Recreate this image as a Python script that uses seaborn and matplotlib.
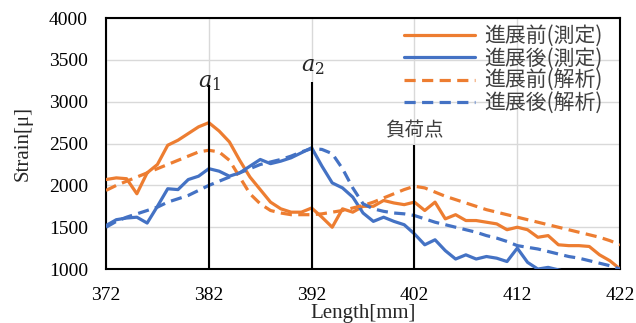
import numpy as np
import pandas as pd
import seaborn as sns
import matplotlib.pyplot as plt

length = list(range(372, 423))

before_meas = [2070, 2090, 2080, 1900, 2150, 2250, 2480, 2540, 2620, 2700,
               2750, 2650, 2520, 2300, 2100, 1950, 1800, 1720, 1680, 1680,
               1730, 1620, 1500, 1720, 1680, 1750, 1750, 1820, 1790, 1770,
               1800, 1700, 1800, 1600, 1650, 1580, 1580, 1560, 1540, 1470,
               1500, 1470, 1380, 1400, 1290, 1280, 1280, 1270, 1170, 1100,
               1000]
after_meas = [1520, 1590, 1610, 1620, 1550, 1750, 1960, 1950, 2070, 2110,
              2200, 2170, 2110, 2150, 2230, 2310, 2260, 2290, 2330, 2390,
              2450, 2230, 2030, 1970, 1860, 1670, 1570, 1620, 1570, 1530,
              1420, 1290, 1350, 1220, 1120, 1170, 1120, 1150, 1130, 1090,
              1250, 1080, 1000, 1020, 990, 960, 940, 920, 900, 890, 880]
before_calc = [1940, 2000, 2050, 2100, 2150, 2200, 2250, 2300, 2350, 2400,
               2420, 2400, 2300, 2100, 1900, 1780, 1700, 1670, 1650, 1650,
               1650, 1660, 1680, 1700, 1730, 1760, 1800, 1850, 1900, 1950,
               1990, 1970, 1920, 1870, 1830, 1790, 1750, 1710, 1680, 1650,
               1620, 1590, 1560, 1530, 1500, 1470, 1440, 1410, 1380, 1340,
               1290]
after_calc = [1500, 1570, 1620, 1660, 1700, 1740, 1800, 1840, 1880, 1940,
              2000, 2050, 2100, 2150, 2200, 2250, 2280, 2310, 2350, 2400,
              2440, 2430, 2380, 2200, 1970, 1780, 1720, 1690, 1670, 1660,
              1640, 1600, 1560, 1530, 1500, 1470, 1440, 1400, 1370, 1330,
              1280, 1260, 1240, 1210, 1180, 1150, 1130, 1100, 1070, 1040,
              1000]

labels = ["進展前(測定)", "進展後(測定)", "進展前(解析)", "進展後(解析)"]

mark_x = [382, 392, 402]
mark_top = [3200, 3240, 2480]
mark_text = ["$a_1$", "$a_2$", "負荷点"]

orange = "#ED7D31"
blue = "#4472C4"

sns.set_theme(style="white")
plt.rcParams["font.family"] = ["Liberation Serif", "Noto Sans CJK JP"]
plt.rcParams["mathtext.fontset"] = "dejavuserif"

fig = plt.figure(figsize=(6.36, 3.23), dpi=100)
ax = fig.add_axes([0.1667, 0.167, 0.8083, 0.777])

dash = (0, (3.5, 2))
series = [(before_meas, orange, "-"), (after_meas, blue, "-"),
          (before_calc, orange, dash), (after_calc, blue, dash)]
for (vals, col, ls), lab in zip(series, labels):
    sns.lineplot(x=length, y=vals, ax=ax, color=col, lw=2.3, label=lab,
                 linestyle=ls, zorder=3)

ax.vlines(mark_x, 1000, mark_top, color="black", lw=1.5, zorder=4)
# a1 / a2 labels sit on top of their marker lines
ax.text(mark_x[0] + 0.1, 3175, mark_text[0], ha="center", va="baseline",
        fontsize=16)
ax.text(mark_x[1] + 0.1, 3365, mark_text[1], ha="center", va="baseline",
        fontsize=16)
ax.text(mark_x[2], 2530, mark_text[2], ha="center", va="bottom",
        fontsize=14, family=["Noto Sans CJK JP"], color="#404040")

ax.set_xlim(372, 422)
ax.set_ylim(1000, 4000)
ax.set_xticks(range(372, 423, 10))
ax.set_yticks(range(1000, 4001, 500))
ax.grid(True, color="#d9d9d9", lw=1)
ax.tick_params(axis="both", length=0, labelsize=14, pad=13, colors="black")
for s in ax.spines.values():
    s.set_color("black")
    s.set_linewidth(1.5)
ax.set_xlabel("Length[mm]", fontsize=15, labelpad=0)
ax.set_ylabel("Strain[μ]", fontsize=15, labelpad=12)

leg = ax.legend(loc="upper right", bbox_to_anchor=(0.982, 1.006), frameon=False,
                handlelength=3.4, labelspacing=0.02, handletextpad=0.45,
                borderaxespad=0, prop={"family": "Noto Sans CJK JP", "size": 15})
for t in leg.get_texts():
    t.set_color("#404040")

fig.savefig("out.png", dpi=100)
